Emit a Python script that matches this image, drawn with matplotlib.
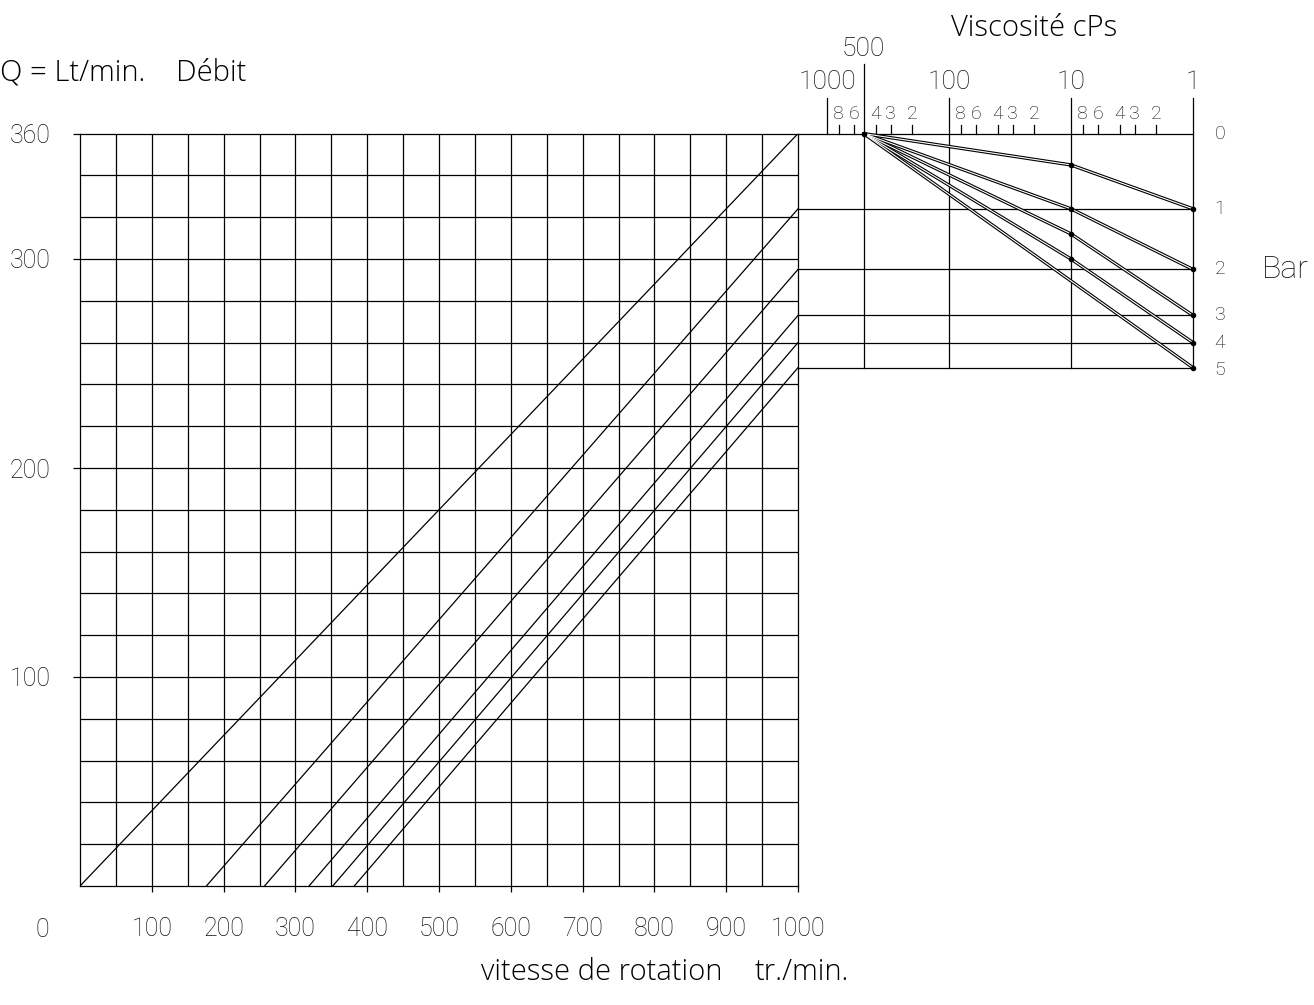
import matplotlib
matplotlib.use("Agg")
import matplotlib.pyplot as plt

# vitesse de rotation (tr/min) ou chaque droite coupe Q = 0
rpm_start = [0, 176, 257, 319, 352, 382]
# debit (Lt/min) a 1000 tr/min pour 0..5 bar
bar_levels = [0, 1, 2, 3, 4, 5]
q_bar = [360, 324, 295, 273, 260, 248]

# abaque viscosite: debit a 500, 10 et 1 cPs pour 1..5 bar
visc_points = [500, 10, 1]
q_visc = [
    [360, 345, 324],
    [360, 324, 295],
    [360, 312, 273],
    [360, 300, 260],
    [360, 289.5, 248],
]
visc_major = [1000, 100, 10, 1]
visc_minor = [800, 600, 400, 300, 200, 80, 60, 40, 30, 20, 8, 6, 4, 3, 2]
visc_minor_labels = ["8", "6", "4", "3", "2"] * 3

rpm_ticks = [100, 200, 300, 400, 500, 600, 700, 800, 900, 1000]
q_ticks = [100, 200, 300, 360]

W, H = 1314, 1005
THIN = dict(family=["Roboto", "DejaVu Sans"], fontweight="light", color="#111111")
TITLE = dict(family=["Open Sans", "DejaVu Sans"], fontweight="light", color="black")
LW = 0.9

fig = plt.figure(figsize=(W / 100, H / 100), dpi=100)

# axes principal: debit en fonction de la vitesse
px_q = (886 - 133.6) / 360.0
ax = fig.add_axes([80 / W, 1 - 886 / H, (798 - 80) / W, 360 * px_q / H])
ax.set_xlim(0, 1000)
ax.set_ylim(0, 360)
ax.vlines(range(50, 1000, 50), 0, 360, color="black", lw=LW)
ax.hlines(range(20, 360, 20), 0, 1000, color="black", lw=LW)
for x0, q1 in zip(rpm_start, q_bar):
    ax.plot([x0, 1000], [0, q1], color="black", lw=LW)
for s in ax.spines.values():
    s.set_linewidth(LW)

ax.set_xticks(rpm_ticks)
ax.set_xticklabels([str(v) for v in rpm_ticks], fontsize=18, **THIN)
ax.set_yticks(q_ticks)
ax.set_yticklabels([str(v) for v in q_ticks], fontsize=18, **THIN)
ax.tick_params(axis="x", direction="out", length=4.5, width=LW, pad=18)
ax.tick_params(axis="y", direction="out", length=5, width=LW, pad=16)
ax.text(-53, -44 / (360 * px_q), "0", transform=ax.get_xaxis_transform(),
        ha="center", va="center", fontsize=18, **THIN)

# abaque de viscosite (echelle log, decroissante vers la droite)
q_top = 405
x_left = 10 ** ((1193 - 798) / 122.0)
rax = fig.add_axes([798 / W, 1 - 886 / H, (1193 - 798) / W, q_top * px_q / H])
rax.set_xscale("log")
rax.set_xlim(x_left, 1)
rax.set_ylim(0, q_top)
rax.axis("off")

for q in q_bar:
    rax.plot([x_left, 1], [q, q], color="black", lw=LW, clip_on=False)

q_lab = 377
rax.plot([1000, 1000], [360, q_lab], color="black", lw=LW, clip_on=False)
rax.plot([500, 500], [q_bar[-1], 393.5], color="black", lw=LW, clip_on=False)
for v in visc_major[1:]:
    rax.plot([v, v], [q_bar[-1], q_lab], color="black", lw=LW, clip_on=False)
for v in visc_minor:
    rax.plot([v, v], [360, 364], color="black", lw=LW, clip_on=False)

for v in visc_major:
    rax.text(v, 384.5, str(v), ha="center", va="center", fontsize=19, **THIN)
rax.text(500, 400.5, "500", ha="center", va="center", fontsize=19, **THIN)
for v, lab in zip(visc_minor, visc_minor_labels):
    rax.text(v, 369.5, lab, ha="center", va="center", fontsize=14, **THIN)

# courbes doublees: trait noir epais avec coeur blanc
for qs in q_visc:
    rax.plot(visc_points, qs, color="black", lw=2.4, solid_capstyle="round",
             zorder=3, clip_on=False)
    rax.plot(visc_points, qs, color="white", lw=0.8, zorder=4, clip_on=False)
for qs in q_visc[:-1]:
    rax.plot(visc_points[1:], qs[1:], "o", color="black", ms=3, zorder=5, clip_on=False)
rax.plot([visc_points[0], visc_points[-1]], [q_visc[-1][0], q_visc[-1][-1]],
         "o", color="black", ms=3, zorder=5, clip_on=False)

for b, q in zip(bar_levels, q_bar):
    fig.text(1220 / W, 1 - (886 - q * px_q + (2 if b == 5 else 0)) / H, str(b),
             ha="center", va="center", fontsize=14, **THIN)
fig.text(1262 / W, 1 - 270 / H, "Bar", ha="left", va="center", fontsize=23, **THIN)

# titres
fig.text(0, 1 - 73 / H, "Q = Lt/min.", ha="left", va="center", fontsize=21, **TITLE)
fig.text(176 / W, 1 - 73 / H, "Débit", ha="left", va="center", fontsize=21, **TITLE)
fig.text(1034 / W, 1 - 28 / H, "Viscosité cPs", ha="center", va="center",
         fontsize=21, **TITLE)
fig.text(602 / W, 1 - 972 / H, "vitesse de rotation", ha="center", va="center",
         fontsize=21, **TITLE)
fig.text(755 / W, 1 - 972 / H, "tr./min.", ha="left", va="center",
         fontsize=21, **TITLE)

fig.savefig("out.png", dpi=100, facecolor="white")
